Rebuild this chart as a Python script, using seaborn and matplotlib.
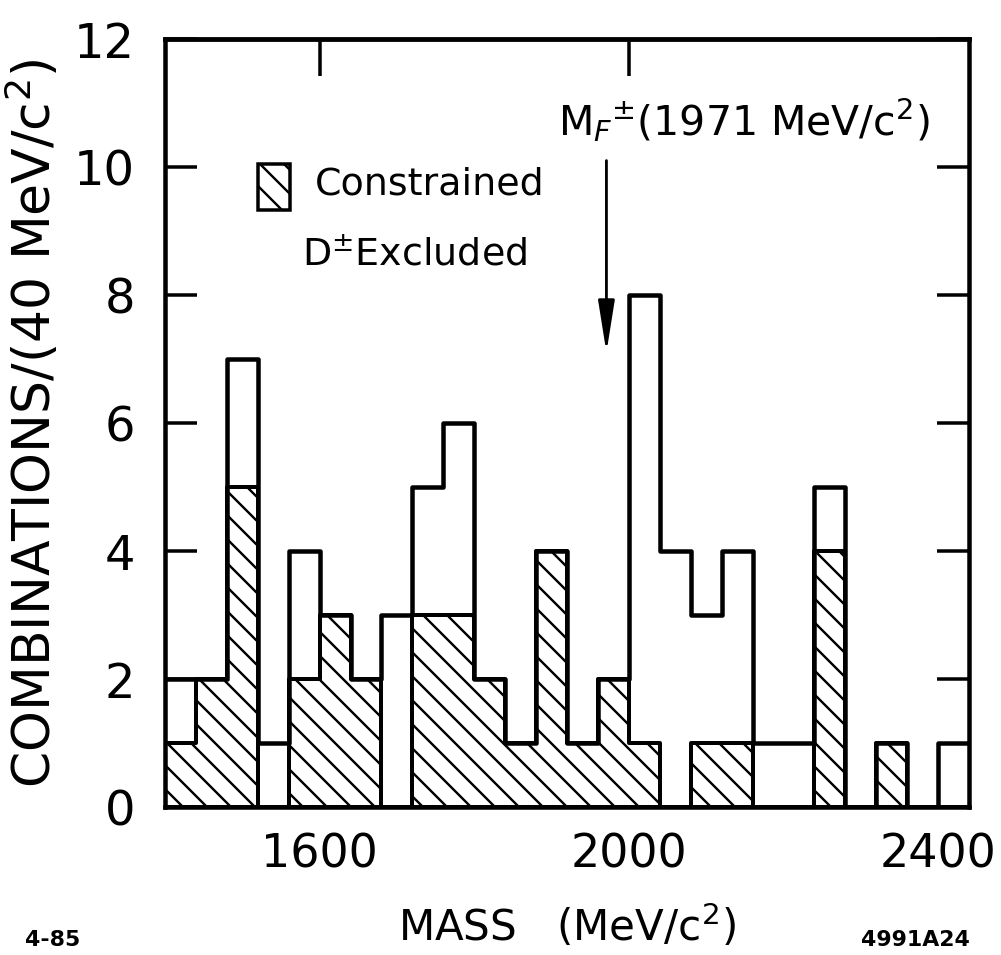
import numpy as np
import pandas as pd
import matplotlib
matplotlib.use("Agg")
import matplotlib.pyplot as plt
from matplotlib.patches import Rectangle
import seaborn as sns

# ---- data ----
bin_low_edges = [1400, 1440, 1480, 1520, 1560, 1600, 1640, 1680, 1720, 1760,
                 1800, 1840, 1880, 1920, 1960, 2000, 2040, 2080, 2120, 2160,
                 2200, 2240, 2280, 2320, 2360, 2400]
bin_width = 40
total_counts = [2, 2, 7, 1, 4, 3, 2, 3, 5, 6,
                2, 1, 4, 1, 2, 8, 4, 3, 4, 1,
                1, 5, 0, 1, 0, 1]
constrained_counts = [1, 2, 5, 0, 2, 3, 2, 0, 3, 3,
                      2, 1, 4, 1, 2, 1, 0, 1, 1, 0,
                      0, 4, 0, 1, 0, 0]
x_tick_values = [1600, 2000, 2400]
x_top_ticks = [1600, 2000]
y_tick_values = [0, 2, 4, 6, 8, 10, 12]
mf_mass = 1971

# ---- style ----
sns.set_theme(style="white")
plt.rcParams['font.family'] = ['DejaVu Sans']
plt.rcParams['mathtext.fontset'] = 'dejavusans'
plt.rcParams['hatch.linewidth'] = 2.4
plt.rcParams['hatch.color'] = 'black'

edges = bin_low_edges + [bin_low_edges[-1] + bin_width]
centers = [lo + bin_width / 2 for lo in bin_low_edges]
df = pd.DataFrame({'mass': centers,
                   'total': total_counts,
                   'constrained': constrained_counts})

DPI = 72
fig = plt.figure(figsize=(1001 / DPI, 955 / DPI), dpi=DPI)
ax = fig.add_axes([165 / 1001, 1 - 807 / 955, (969 - 165) / 1001, (807 - 39) / 955])

sns.histplot(data=df, x='mass', weights='constrained', bins=edges,
             element='step', fill=True, facecolor='white', edgecolor='black',
             hatch='\\', linewidth=4, ax=ax)
sns.histplot(data=df, x='mass', weights='total', bins=edges,
             element='step', fill=False, color='black', linewidth=4.5, ax=ax)

ax.set_xlim(edges[0], edges[-1])
ax.set_ylim(y_tick_values[0], y_tick_values[-1])

for sp in ax.spines.values():
    sp.set_visible(True)
    sp.set_color('black')
    sp.set_linewidth(4.5)

ax.set_xticks(x_tick_values)
ax.set_xticklabels([str(v) for v in x_tick_values])
ax.set_yticks(y_tick_values)
ax.set_yticklabels([str(v) for v in y_tick_values])
ax.tick_params(axis='x', which='both', bottom=False, top=False, length=0,
               labelsize=46, pad=26, colors='black')
ax.tick_params(axis='y', direction='in', length=32, width=3.5, left=True,
               right=True, labelsize=48, pad=30, colors='black')

sec = ax.secondary_xaxis('top')
sec.set_xticks(x_top_ticks)
sec.tick_params(direction='in', length=37, width=3.5, labeltop=False, colors='black')
sec.spines['top'].set_linewidth(4.5)

ax.set_ylabel("COMBINATIONS/(40 MeV/c$^{2}$)", fontsize=52, labelpad=12, color='black')
ax.set_xlabel("MASS   (MeV/c$^{2}$)", fontsize=42, labelpad=24, color='black')

# legend box + text
ax.add_patch(Rectangle((1520, 9.33), 42, 0.72, facecolor='white', edgecolor='black',
                       hatch='\\', linewidth=3.5, zorder=5))
ax.text(1594, 9.72, "Constrained", fontsize=38, va='center', ha='left', color='black')
ax.text(1577, 8.62, "D$^{\\pm}$Excluded", fontsize=38, va='center', ha='left', color='black')

# M_F annotation and arrow
ax.text(1909, 10.72, "M$_{F}$$^{\\pm}$(1971 MeV/c$^{2}$)", fontsize=41, va='center',
        ha='left', color='black')
ax.annotate("", xy=(mf_mass, 7.1), xytext=(mf_mass, 10.1),
            arrowprops=dict(arrowstyle='-|>,head_length=2.2,head_width=0.35',
                            mutation_scale=20, lw=2.8, color='black',
                            shrinkA=0, shrinkB=0))

fig.text(25 / 1001, 1 - 940 / 955, "4-85", fontsize=22, fontweight='bold',
         va='center', ha='left', color='black')
fig.text(970 / 1001, 1 - 940 / 955, "4991A24", fontsize=22, fontweight='bold',
         va='center', ha='right', color='black')

fig.savefig("out.png", dpi=DPI, facecolor='white')
